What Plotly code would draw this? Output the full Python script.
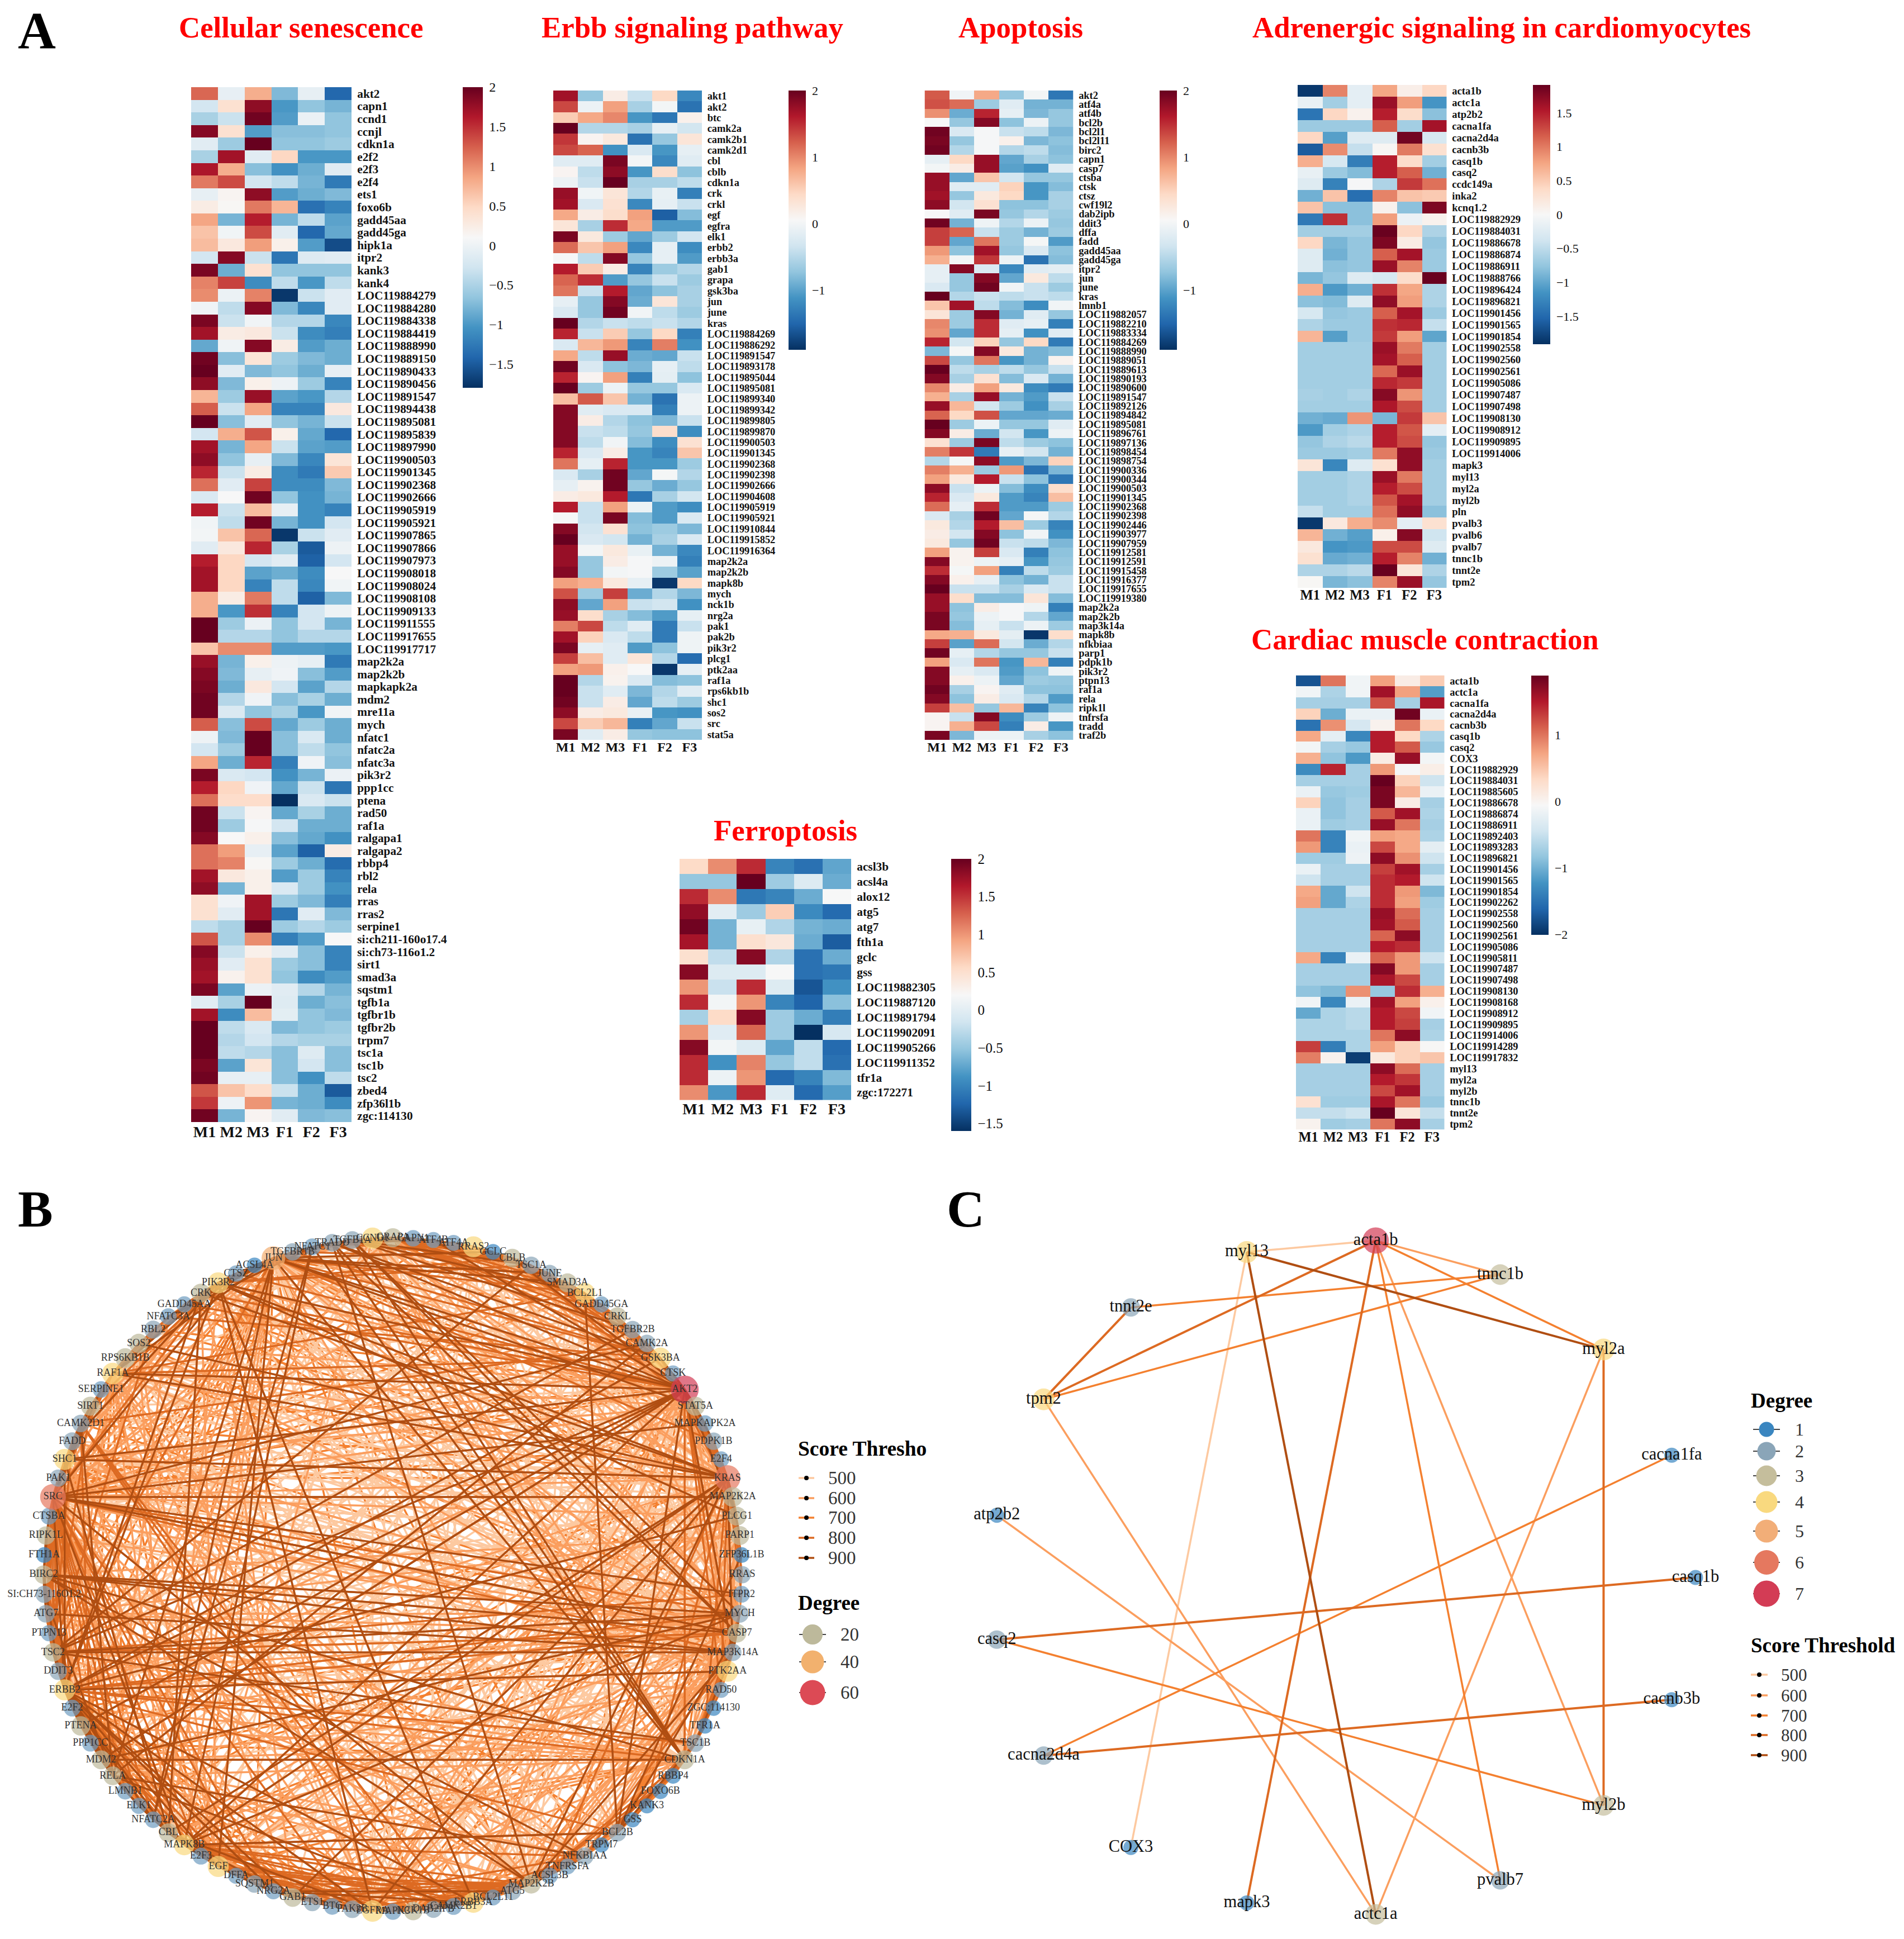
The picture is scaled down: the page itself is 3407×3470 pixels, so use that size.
import math
import numpy as np
import plotly.graph_objects as go

W, H = 3407, 3470
SERIF = "Liberation Serif"
samples = ["M1", "M2", "M3", "F1", "F2", "F3"]
RDBU = ["#053061","#2166AC","#4393C3","#92C5DE","#D1E5F0","#F7F7F7","#FDDBC7","#F4A582","#D6604D","#B2182B","#67001F"]

senescence_genes = ["akt2","capn1","ccnd1","ccnjl","cdkn1a","e2f2","e2f3","e2f4","ets1","foxo6b","gadd45aa","gadd45ga","hipk1a","itpr2","kank3","kank4","LOC119884279","LOC119884280","LOC119884338","LOC119884419","LOC119888990","LOC119889150","LOC119890433","LOC119890456","LOC119891547","LOC119894438","LOC119895081","LOC119895839","LOC119897990","LOC119900503","LOC119901345","LOC119902368","LOC119902666","LOC119905919","LOC119905921","LOC119907865","LOC119907866","LOC119907973","LOC119908018","LOC119908024","LOC119908108","LOC119909133","LOC119911555","LOC119917655","LOC119917717","map2k2a","map2k2b","mapkapk2a","mdm2","mre11a","mych","nfatc1","nfatc2a","nfatc3a","pik3r2","ppp1cc","ptena","rad50","raf1a","ralgapa1","ralgapa2","rbbp4","rbl2","rela","rras","rras2","serpine1","si:ch211-160o17.4","si:ch73-116o1.2","sirt1","smad3a","sqstm1","tgfb1a","tgfbr1b","tgfbr2b","trpm7","tsc1a","tsc1b","tsc2","zbed4","zfp36l1b","zgc:114130"]
senescence_values = [
[1.2,-.05,.8,-.6,-.05,-1.4],[-.2,.4,1.8,-.9,-.5,-.65],[-.4,-.25,1.95,-.85,-.02,-.5],[1.85,.4,-.85,-.55,-.55,-.5],[-.1,-.45,2,-.5,-.5,-.45],[-.4,1.7,-.1,.5,-.9,-.9],[1.65,.8,-.55,-.95,-.7,-.1],[1.1,1.35,-.2,-.3,-.65,-1.2],[-.05,.15,1.8,-.85,-.7,-.6],[.25,.12,1.1,.75,-1.3,-1.1],[.85,-.65,1.6,-.65,-.3,-.8],[.65,.03,1.35,-.1,-1.4,-.75],[.7,.3,.9,.2,-.85,-1.6],[-.2,1.85,-.25,-1.25,-.12,-.1],[1.9,-.7,.4,-.5,-.5,-.5],[1.05,1.4,-1,-.3,-.9,-.3],
[1,-.02,1.05,-1.75,-.25,-.1],[.02,-.3,1.85,-.6,-1.05,-.1],[1.9,-.25,.03,-.35,-.35,-1.05],[1.7,.25,.3,-.25,-1,-1.15],[-.75,.02,1.85,.25,-.85,-.7],[1.95,-.55,.35,-.45,-.6,-.7],[2,-.1,-.6,-.5,-.7,-.05],[1.8,-.6,.2,0,-.45,-1.1],[.75,-.45,1.75,-.8,-.9,-.35],[1.25,-.25,.85,-1.1,-1.1,.3],[2,-.55,-.1,-.5,-.65,-.25],[-.2,.8,1.3,.2,-.75,-1.4],[1.7,-.65,.85,-.25,-.8,-.85],[1.8,-.5,-.05,-.6,-1.05,.35],[1.55,-.25,.25,-1,-1.2,.6],[1.15,-.1,1.4,-1,-1,-.6],[-.15,.1,1.95,-.5,-.95,-.65],[1.6,-.25,.7,-.05,-.95,-1.1],[.03,-.3,1.95,-.65,-.95,-.2],[.05,.65,1.2,-1.75,-.25,-.1],[-.1,.3,1.55,-.4,-1.5,0],[1.6,.5,-.2,-.1,-1.45,-.2],[1.7,.5,-.8,-.7,-1,.1],[1.7,.5,-1.1,-.3,-1.05,.03],[.8,.25,1.1,-.3,-1.45,-.6],[.8,-.9,1.5,-1.1,-.2,0],[2,-.45,-.02,-.5,-.2,-.65],[2,-.35,-.35,-.5,-.35,-.35],[.65,1,1,-.85,-.85,-.9],
[1.75,-.65,.2,0,-.05,-1.2],[1.85,-.6,-.05,.02,-.55,-.85],[1.9,-.7,.3,-.2,-.8,-.35],[1.95,-.35,.02,-.55,-.4,-.7],[1.95,-.15,-.5,-.4,-.9,.03],[1.25,-.55,1.35,-.75,-.45,-.7],[0,-.6,2,-.55,-.15,-.7],[-.2,-.45,2,-.55,-.3,-.5],[.85,-.7,1.55,-1.15,.02,-.55],[1.9,-.15,-.2,-.95,-.65,-.02],[1.6,.5,.02,-.75,-.25,-1.25],[1.15,.45,.45,-1.8,-.15,-.25],[1.95,-.25,.15,-.75,-.4,-.7],[1.95,-.45,.08,-.2,-.7,-.7],[1.85,.1,.2,-.55,-.75,-.95],[1.15,.9,-.05,-.8,-1.45,.25],[1.15,1.05,.12,-.45,-.7,-1.35],[1.7,.3,.2,-.85,-.45,-1.1],[1.8,-.65,.2,-.15,-.45,-.95],[.4,.02,1.7,-.45,-.6,-1.15],[.4,-.1,1.7,-1.25,-.1,-.6],[-.3,-.4,2,-.45,-.35,-.45],[1.3,-.4,1,-1.15,-.85,.1],[1.85,-.25,.2,-.1,-.55,-1.1],[1.75,-.1,.4,-.45,-.55,-1.1],[1.7,.18,.4,-.5,-1,-.85],[1.9,-.8,-.02,-.1,-.35,-.65],[-.1,-.4,2,-.12,-.7,-.55],[1.7,-1,.7,-.08,-.5,-.6],[2,-.3,-.15,-.6,-.5,-.45],[2,-.35,-.2,-.35,-.4,-.4],[2,-.3,-.35,-.55,-.12,-.55],[1.9,-.8,.35,-.55,-.2,-.55],[1.95,-.05,-.05,-.55,-.95,-.3],[1.3,.65,.45,-.25,-.7,-1.5],[1.45,0,.95,-.65,-.7,-1],[1.95,-.65,.15,-.1,-.6,-.55]]

erbb_genes = ["akt1","akt2","btc","camk2a","camk2b1","camk2d1","cbl","cblb","cdkn1a","crk","crkl","egf","egfra","elk1","erbb2","erbb3a","gab1","grapa","gsk3ba","jun","june","kras","LOC119884269","LOC119886292","LOC119891547","LOC119893178","LOC119895044","LOC119895081","LOC119899340","LOC119899342","LOC119899805","LOC119899870","LOC119900503","LOC119901345","LOC119902368","LOC119902398","LOC119902666","LOC119904608","LOC119905919","LOC119905921","LOC119910844","LOC119915852","LOC119916364","map2k2a","map2k2b","mapk8b","mych","nck1b","nrg2a","pak1","pak2b","pik3r2","plcg1","ptk2aa","raf1a","rps6kb1b","shc1","sos2","src","stat5a"]
erbb_values = [
[1.7,-.55,.2,-.3,.45,-1.15],[1.35,-.05,.85,-.45,0,-1.4],[.55,.8,1,-1,-1.35,.15],[2,-.4,-.4,-.45,-.1,-.25],[1.45,.1,.25,-1.4,-.55,.3],[1.35,1.2,-1.05,-.2,-1,-.1],[-.15,-.15,1.9,0,-1.15,-.15],[.1,-.35,1.8,-1,.4,-.6],[-.05,-.3,2,-.45,-.45,-.35],[1.75,-.02,.3,-.4,-.08,-1.25],[1.7,-.2,.35,-1.15,-.1,-.3],[.8,.2,.4,.85,-1.55,-.65],[.3,-.45,1.5,.8,-.95,-.95],[1.9,.25,-.5,-.85,-.5,-.25],[1.15,.6,.85,-1.15,-.1,-1.1],[.03,-.35,1.85,-.55,-.1,-.95],[1.6,.55,.2,-1.2,-.5,-.4],[1.2,1.5,-.95,-.55,-.3,-.5],[1.1,-.3,1.6,-.85,-.6,-.45],[-.1,-.55,1.85,-.8,.3,-.45],[-.2,-.55,1.95,-.02,-.35,-.5],[2,-.4,-.3,-.35,-.3,-.4],
[1.55,-.3,.55,-.55,.45,-1.25],[-.2,.7,.9,-1.2,1.05,-1.05],[.8,-.35,1.75,-.8,-.85,-.3],[1.95,-.2,-.6,-.7,-.1,-.35],[1.55,.1,.85,-1.25,-.12,-.6],[2,-.5,-.05,-.55,-.55,-.2],[.65,1.25,.6,-.75,-1.4,-.05],[1.85,-.15,-.2,-.2,-1.25,-.05],[1.85,.2,-.4,-.6,-.7,-.3],[1.85,-.3,-.35,-.55,.4,-1.1],[1.85,-.35,-.02,-.65,-1.1,.35],[1.55,-.2,.2,-1,-1.2,.6],[1.1,-.1,1.55,-1,-1,-.5],[-.2,-.45,1.95,-.85,.02,-.4],[-.1,.12,1.95,-.55,-.8,-.55],[.2,.25,1.6,-1.35,-.45,-.25],[1.6,-.3,.85,-.05,-.95,-1.1],[.03,-.3,1.9,-.65,-.95,-.2],[1.85,-.25,.35,-.6,-.5,-.7],[2,-.2,-.25,-.75,-.45,-.2],[1.75,0,.25,-.08,-.75,-1.15],
[1.75,-.55,.2,.03,-.05,-1.25],[1.85,-.55,0,.03,-.5,-.9],[.85,.75,.25,-.1,-1.85,.45],[1.3,-.5,1.4,-.8,-.4,-.7],[1.8,-.85,.85,-.3,-.25,-1.05],[1.75,.4,-.45,-.65,-.95,-.1],[1.05,1.35,-.35,-.15,-1.3,-.3],[1.7,.5,-.2,-.35,-1.3,-.03],[1.9,-.1,-.15,-.95,-.6,-.03],[1.4,.65,-.15,.3,-.4,-1.45],[.85,.9,.15,.05,-1.85,-.1],[2,-.4,.12,-.2,-.65,-.6],[2,-.3,-.15,-.7,-.4,-.15],[1.95,-.3,.2,-.85,-.35,-.5],[1.8,.2,.25,-.08,-1,-1.05],[1.35,.55,.7,-1.25,-.85,-.3],[1.9,-.15,.2,-.55,-.6,-.6]]

apoptosis_genes = ["akt2","atf4a","atf4b","bcl2b","bcl2l1","bcl2l11","birc2","capn1","casp7","ctsba","ctsk","ctsz","cwf19l2","dab2ipb","ddit3","dffa","fadd","gadd45aa","gadd45ga","itpr2","jun","june","kras","lmnb1","LOC119882057","LOC119882210","LOC119883334","LOC119884269","LOC119888990","LOC119889051","LOC119889613","LOC119890193","LOC119890600","LOC119891547","LOC119892126","LOC119894842","LOC119895081","LOC119896761","LOC119897136","LOC119898454","LOC119898754","LOC119900336","LOC119900344","LOC119900503","LOC119901345","LOC119902368","LOC119902398","LOC119902446","LOC119903977","LOC119907959","LOC119912581","LOC119912591","LOC119915458","LOC119916377","LOC119917655","LOC119919380","map2k2a","map2k2b","map3k14a","mapk8b","nfkbiaa","parp1","pdpk1b","pik3r2","ptpn13","raf1a","rela","ripk1l","tnfrsfa","tradd","traf2b"]
apoptosis_values = [
[1.25,-.02,.8,-.55,0,-1.35],[1.3,1.15,-.5,-.15,-.75,-.75],[.95,-.8,1.55,-.1,-.7,-.55],[.05,-.55,1.85,-.6,-.05,-.55],[1.95,-.2,.03,-.3,-.35,-.7],[1.9,-.55,.03,.15,-.7,-.6],[1.95,-.4,.03,-.4,-.35,-.65],[-.1,.45,1.75,-.85,-.45,-.6],[0,.2,1.75,-.9,-1.05,-.15],[1.75,-.85,.6,-.25,-.55,-.55],[1.75,-.15,-.15,.5,-1,-.65],[1.7,-.55,.25,.45,-1,-.45],[1.8,-.25,.35,-.6,-.6,-.45],[.05,-.15,1.9,-.55,-.4,-.5],[1.95,-.75,-.03,-.4,-.05,-.55],[1.4,1.2,-.3,-.5,-.75,-.5],[1.4,-.85,1.1,-.5,.02,-.95],[.9,-.6,1.7,-.55,-.2,-.6],[.75,0,1.45,-.05,-1.4,-.65],[-.1,1.85,-.2,-1.15,-.15,-.12],[-.1,-.55,1.85,-.85,.25,-.35],[-.2,-.55,1.95,-.02,-.3,-.5],[2,-.4,-.3,-.35,-.3,-.35],[.6,1.7,-.35,-.65,-1.1,-.02],
[.3,-.5,1.85,-.75,-.15,-.55],[1,-.5,1.5,-.15,-.1,-1.25],[.95,-.85,1.5,-.1,-1.05,-.15],[1.55,-.25,.5,-.55,.45,-1.3],[-.7,.02,1.85,.25,-.75,-.65],[1.35,-.55,1.1,-1,-.75,.12],[2,-.35,-.45,-.35,-.55,-.3],[1.85,-.45,.35,-.65,-.2,-.75],[1,.2,.85,.25,-1.1,-1.3],[.75,-.45,1.75,-.75,-.95,-.3],[1.75,.7,-.25,-.5,-1.05,-.45],[1.2,.45,1.3,-.85,-.85,-.8],[2,-.5,-.05,-.55,-.55,-.15],[1.85,.2,-.8,-.25,-1,-.05],[.35,-.5,1.9,-.35,-.5,-.6],[1.05,1.45,-1.3,-.08,-.25,-.75],[-.4,.02,1.8,-.95,-.7,.5],[1.05,.75,-.5,.9,-1.4,-.7],[.85,.25,1.6,-.3,-.6,-1.35],[1.8,-.3,-.05,-.65,-1.1,.4],[1.55,-.2,.25,-.95,-1.2,.65],[1.15,-.1,1.5,-.95,-.95,-.5],[-.2,-.45,1.95,-.85,.02,-.4],[.25,-.4,1.6,.65,-.5,-1.2],[.2,-.25,1.85,-.6,-.02,-1.05],[.25,-.55,1.95,-.3,-.35,-.7],[.85,.12,1.4,-.2,-1.25,-.6],[1.85,.12,-.05,-.1,-1,-.55],[1.5,.02,.85,-1.25,-.35,-.5],[1.85,.15,-.1,-.6,-.75,-.3],[2,-.3,-.3,-.45,-.2,-.3],[1.75,.4,-.65,-.65,.3,-.65],
[1.75,-.6,.2,.03,-.03,-1.25],[1.9,-.55,-.05,.03,-.4,-.85],[1.9,-.65,-.1,-.3,-.05,-.5],[.8,.75,.25,-.12,-1.85,.4],[1.4,-.9,1.15,-.25,-.8,-.4],[1.95,-.1,-.4,-.55,-.55,-.3],[.85,-.2,1.1,-1,.7,-1.25],[1.85,-.1,-.2,-.95,-.6,-.03],[1.85,.15,-.05,-.85,-.5,-.55],[1.95,-.45,.1,-.15,-.6,-.6],[1.85,-.6,.2,-.2,-.4,-.95],[1.4,.65,-.55,.7,-1.2,-.6],[.1,-.3,1.85,-1.1,-.5,-.03],[.1,.75,1.35,-1.25,.2,-1],[1.9,-.7,-.05,-.05,-.45,-.6]]

adrenergic_genes = ["acta1b","actc1a","atp2b2","cacna1fa","cacna2d4a","cacnb3b","casq1b","casq2","ccdc149a","inka2","kcnq1.2","LOC119882929","LOC119884031","LOC119886678","LOC119886874","LOC119886911","LOC119888766","LOC119896424","LOC119896821","LOC119901456","LOC119901565","LOC119901854","LOC119902558","LOC119902560","LOC119902561","LOC119905086","LOC119907487","LOC119907498","LOC119908130","LOC119908912","LOC119909895","LOC119914006","mapk3","myl13","myl2a","myl2b","pln","pvalb3","pvalb6","pvalb7","tnnc1b","tnnt2e","tpm2"]
adrenergic_values = [
[-1.85,.95,-.15,.75,.12,.4],[-.12,-.5,-.15,1.65,.8,-1.05],[-1.4,.4,.08,1.5,.35,-.65],[-.55,-.55,-.55,1.15,-.5,1.6],[.4,-.95,-.2,-.2,1.85,-.25],[-1.6,.9,-.35,.03,1,.3],[.7,-.25,-1.3,1.5,.35,-.5],[-.12,-.55,-.7,1.5,1.15,-.8],[-.2,-1.25,-.02,-.45,1.35,1.05],[-.8,.55,-1.45,.95,.55,.5],[.55,-.65,-.65,.08,-.65,1.8],[-1.35,1.4,-.65,.8,-.1,.08],[-.5,-.5,-.5,1.9,.4,-.45],[.4,-.75,-.6,1.8,.15,-.6],[-.2,-.8,-.6,1.15,1.6,-.55],[-.2,-.65,-.6,1.65,.95,-.55],[-.75,-.6,-.2,-.25,.35,1.9],[.7,-1,-.8,1.4,.75,-.45],[-.65,-.7,-.2,1.7,.8,-.45],[-.25,-.6,-.55,1.15,1.6,-.55],[-.45,-.55,-.55,1.4,1.45,-.35],[.65,-.95,-.55,1.35,.8,-.9],[-.5,-.5,-.5,1.65,1,-.5],[-.5,-.5,-.5,1.6,1.15,-.5],[-.5,-.5,-.5,1.1,1.65,-.5],[-.5,-.5,-.5,1.45,1.35,-.5],[-.48,-.5,-.45,1.75,.85,-.5],[-.5,-.5,-.5,1.55,1.25,-.5],[-.8,-.85,.85,-.75,1.35,.55],[-1,-.5,-.45,1.5,1.2,-.15],[-.6,-.45,-.4,1.5,1.25,-.6],[-.55,-.55,-.5,1,1.7,-.55],[.25,-1.2,-.2,.3,1.7,-.5],[-.5,-.5,-.45,1.65,1,-.5],[-.5,-.5,-.45,1.5,1.25,-.5],[-.5,-.5,-.45,1.2,1.6,-.5],[-.35,-.5,-.5,1.05,1.7,-.65],[-1.85,.2,.7,.9,-.15,.3],[.65,-.8,-.95,.1,1.75,-.3],[.2,-1.05,-1,1.25,1.25,-.2],[.3,-.85,-.8,1.5,.95,-.8],[-.45,-.45,-.4,1.9,.25,-.45],[.02,-.75,-.65,.95,1.65,-.6]]

cardiac_genes = ["acta1b","actc1a","cacna1fa","cacna2d4a","cacnb3b","casq1b","casq2","COX3","LOC119882929","LOC119884031","LOC119885605","LOC119886678","LOC119886874","LOC119886911","LOC119892403","LOC119893283","LOC119896821","LOC119901456","LOC119901565","LOC119901854","LOC119902262","LOC119902558","LOC119902560","LOC119902561","LOC119905086","LOC119905811","LOC119907487","LOC119907498","LOC119908130","LOC119908168","LOC119908912","LOC119909895","LOC119914006","LOC119914289","LOC119917832","myl13","myl2a","myl2b","tnnc1b","tnnt2e","tpm2"]
cardiac_values = [
[-1.75,1,-.1,.75,.1,.45],[-.1,-.5,-.1,1.6,.75,-1.05],[-.55,-.55,-.55,1.2,-.55,1.55],[.4,-.9,-.15,-.15,1.85,-.15],[-1.5,.85,-.3,.03,1,.35],[.7,-.2,-1.3,1.5,.35,-.5],[-.08,-.55,-.65,1.5,1.15,-.65],[.65,-.7,-1.1,.1,1.65,-.08],[-1.25,1.45,-.55,.8,-.05,.08],[-.55,-.55,-.55,1.9,.4,-.35],[-.15,-.65,-.6,1.8,.6,-.15],[.4,-.7,-.55,1.8,.1,-.55],[-.15,-.7,-.55,1.15,1.6,-.5],[-.15,-.6,-.55,1.65,1,-.55],[1,-1.35,-.1,.75,.7,-.5],[.8,-1.35,-.15,1.25,.7,-.2],[-.6,-.6,-.12,1.7,.85,-.35],[-.15,-.55,-.55,1.3,1.6,-.55],[-.35,-.55,-.55,1.4,1.5,-.35],[.7,-.95,-.35,1.4,.8,-.8],[.75,-.95,-.5,1.4,.75,-.6],[-.55,-.55,-.55,1.65,1.05,-.55],[-.55,-.55,-.55,1.6,1.15,-.55],[-.55,-.55,-.55,1.1,1.7,-.55],[-.55,-.55,-.55,1.5,1.4,-.55],[.7,-1.35,-.15,1.1,.8,-.35],[-.55,-.55,-.55,1.75,.8,-.55],[-.55,-.55,-.55,1.55,1.25,-.55],[-.7,-.8,.85,-.65,1.4,.65],[-.1,-1.3,-.15,1.6,.75,.05],[-.95,-.5,-.45,1.5,1.25,-.1],[-.5,-.5,-.45,1.5,1.3,-.55],[-.5,-.5,-.5,1,1.7,-.5],[1.3,-1.4,-.5,.75,.4,-.03],[.95,.02,-1.9,.15,.4,.5],[-.55,-.55,-.55,1.7,1.05,-.55],[-.55,-.55,-.55,1.5,1.35,-.55],[-.55,-.55,-.55,1.25,1.6,-.55],[.25,-.6,-.6,1.55,1,-.65],[-.4,-.4,-.35,1.9,.2,-.4],[.02,-.6,-.55,1,1.7,-.55]]

ferroptosis_genes = ["acsl3b","acsl4a","alox12","atg5","atg7","fth1a","gclc","gss","LOC119882305","LOC119887120","LOC119891794","LOC119902091","LOC119905266","LOC119911352","tfr1a","zgc:172271"]
ferroptosis_values = [
[.55,1.05,1.55,-1,-1.15,-.75],[-.5,-.5,2,-.45,-.05,-.7],[1.55,1.05,-1.1,-1,-.7,.2],[1.8,0,-.45,.65,-.95,-1.2],[1.95,-.65,.05,-.35,-.65,-.7],[1.7,-.65,.5,.4,-.7,-1.3],[.5,-.25,1.85,-.35,-1.15,-.7],[1.85,-.05,-.05,.2,-1.15,-1.1],[1,-.2,1.55,-.05,-1.35,-.9],[1.55,.15,1,-1,-1.25,-.55],[-.4,.55,1.85,-.45,-.7,-1.05],[1,-.02,1.25,-.45,-1.6,-.1],[1.85,.15,-.05,-.75,-.25,-1.2],[1.55,-.9,1.1,-.5,-.25,-1.15],[1.55,.1,1,-1.2,-1,-.6],[1.05,-.85,1.55,-.03,-1.2,-.8]]

# Panel B network: nodes in drawing order round the circle
b_nodes = ["GRAPA","CAPN1","ATF4B","ATF4A","RRAS2","GCLC","CBLB","TSC1A","JUNE","SMAD3A","BCL2L1","GADD45GA","CRKL","TGFBR2B","CAMK2A","GSK3BA","CTSK","AKT2","STAT5A","MAPKAPK2A","PDPK1B","E2F4","KRAS","MAP2K2A","PLCG1","PARP1","ZFP36L1B","RRAS","ITPR2","MYCH","CASP7","MAP3K14A","PTK2AA","RAD50","ZGC:114130","TFR1A","TSC1B","CDKN1A","RBBP4","FOXO6B","KANK3","GSS","BCL2B","TRPM7","NFKBIAA","TNFRSFA","ACSL3B","MAP2K2B","ATG5","BCL2L11","ERBB3A","CAMK2B1","DAB2IPB","NCK1B","MAPK3","EGFRA","PAK2B","BTC","ETS1","GAB1","NRG2A","SQSTM1","DFFA","EGF","E2F3","MAPK8B","CBL","NFATC2A","ELK1","LMNB1","RELA","MDM2","PPP1CC","PTENA","E2F2","ERBB2","DDIT3","TSC2","PTPN13","ATG7","SI:CH73-116O1.2","BIRC2","FTH1A","RIPK1L","CTSBA","SRC","PAK1","SHC1","FADD","CAMK2D1","SIRT1","SERPINE1","RAF1A","RPS6KB1B","SOS2","RBL2","NFATC3A","GADD45AA","CRK","PIK3R2","CTSZ","ACSL4A","JUN","TGFBR1B","NFATC1","TRADD","TGFB1A","CCND1"]
b_degree = [20,9,6,6,30,5,18,13,13,20,28,7,18,13,13,30,7,62,20,8,13,7,52,24,20,20,5,13,10,15,20,13,30,6,4,4,14,20,5,5,2,3,14,3,14,6,9,20,13,6,28,10,11,18,9,32,13,9,12,19,7,13,7,30,10,28,20,9,7,9,19,20,10,22,10,30,13,18,7,14,12,18,5,17,10,52,12,30,15,13,20,9,32,24,22,16,9,7,20,30,8,4,42,13,10,14,14,32]

b_edges_500 = [(4,[33,37,42,47,53,55,59,63,66,70,75,80,87,92,99,24,29,32]),(102,[17,22,30,32,37,42,47,50,55,27,24,29,45,38,6,10,15]),(10,[29,31,37,42,48,55,60,65,71,77,84,92,99,22,30]),(15,[31,37,44,48,55,63,71,79,85,92,98,24,32]),(9,[28,30,33,37,42,47,52,66,73,80,29]),(17,[30,36,42,47,53,58,66,70,78,84,90,93,97,103,107,5,28]),(22,[29,31,36,44,51,58,62,70,76,84,88,93,99,106,1]),(32,[47,55,60,63,70,75,79,85,87,92,98,107,100]),(85,[27,29,31,37,44,50,53,25,30,18]),(87,[24,29,30,37,47,55,18,23,32]),(92,[28,30,37,43,47,53,23,25]),(93,[23,27,29,31,42,47,55,17]),(99,[29,31,36,42,47,53,30]),(107,[30,37,42,47,55,63,71,29,85,92]),(63,[23,25,30,18,24,29,12]),(75,[23,29,30,31,37,12,18,25]),(79,[29,30,31,37,23,44]),(83,[30,31,44,47,45,29]),(88,[30,31,37,44,47,29]),(90,[29,37,47,23,30]),(55,[23,24,25,18,12,20,10]),(50,[25,23,20,12,107,94]),(12,[30,37,47,73,85,92,66]),(6,[37,47,55,66,75,85]),(0,[32,47,55,66,75,85,94,50])]
b_edges_600 = [(17,[1,10,12,23,24,25,29,32,37,50,55,59,63,65,75,87,92,94,98,99,107,6,4]),(85,[0,6,12,15,23,24,32,47,50,55,59,63,66,73,75,87,92,94,98,99,102,107]),(22,[0,6,10,12,15,23,24,32,50,55,59,63,66,75,85,87,92,94,98,99,102,107,93]),(102,[0,1,9,29,37,66,70,71,73,85,88,90,104,105,106,107,65,42,31]),(29,[37,38,44,47,53,58,65,71,73,75,79,85,92,107,102,0,9,5,10]),(30,[36,44,45,47,48,62,66,76,79,81,83,84,88,16,100]),(37,[71,73,74,76,66,75,107,64,58,70,79]),(107,[36,64,74,38,23]),(92,[55,59,63,66,75,87,94,98,99,50,47,23]),(55,[59,60,63,66,87,94,98,24,75,99,32,56,51]),(75,[50,59,63,66,87,94,98,24,99,32]),(32,[24,50,59,66,87,94,98,99]),(99,[24,50,59,66,87,94,98]),(63,[57,59,60,66,87,94,98,24]),(66,[58,59,87,94,98,24]),(47,[36,42,44,48,53,79,83]),(71,[73,36,44,47,79]),(70,[44,47,67,72,76,88,96,104,14]),(77,[81,79,84,30,44]),(88,[30,45,44,62,76]),(25,[17,37,47,79,81,48]),(18,[22,32,50,55,75,85,87,92,99,13,103]),(33,[71,77,25,37])]
b_edges_700 = [(85,[2,4,9,10,13,17,18,20,25,29,30,37,42,53,62,70,71,73,76,81,86,88,89]),(17,[4,8,13,14,15,20,22,30,45,47,53,54,56,71,73,86,89,93,95]),(22,[8,13,14,20,30,37,47,53,54,56,64,65,73,86,89,95,97,68,74]),(102,[12,18,19,23,25,44,48,53,61,63,64,66,68,72,74,75,76,77,78,79,84,95,96,98,99]),(30,[28,31,33,37,42,48,63,71,73,75,85,87,92,93,97,99,107,77,86,89]),(29,[36,42,48,50,55,59,63,66,70,74,77,81,87,94,98]),(75,[53,56,58,60,61,64,67,68,69,70,71,72,73,74,76,77]),(65,[53,56,58,60,61,64,66,67,70,71,73]),(37,[36,38,42,44,47,63,65,72,76,77,81]),(92,[64,69,72,74,76,78,86,88,89,95,97,52]),(55,[47,48,50,51,52,53,54,57,58,46,45]),(73,[56,58,61,64,66,67,68,70,71,72,74,76,77,79,84]),(50,[44,46,47,48,49,51,52,53,54,56,59]),(47,[43,44,45,48,49,51,52,53]),(42,[36,38,39,44,48,53,27,28]),(99,[92,93,94,95,96,98,100,88,89]),(32,[26,27,28,31,33,36,38,21,19]),(23,[18,20,21,24,25,27,29,31]),(4,[1,2,3,5,6,7,8,9,10,12,14,15,104,105,106]),(10,[6,7,9,12,14,0,1,3,105]),(107,[1,3,5,6,8,9,12,104,106,105])]
b_edges_800 = [(85,[56,60,61,64,65,67,68,69,70,72,74,76,77,78,79,80,83,84,86,87,88,30,31,29]),(75,[62,65,66,69,71,78,79,80,81,83,29,30,36,37,42]),(73,[63,65,69,75,78,80,81]),(77,[74,76,78,79,80,83,88,90,30,28,102,95]),(102,[10,15,20,8,9,97,100,103,106,99]),(17,[16,18,19,21,23,31,32,33,37,11,14,97,98,100]),(22,[17,19,20,21,23,24,26,27,28,31,33,35,40,46]),(63,[48,49,50,53,54,55,61,62,64,65,66]),(65,[47,48,42,44,50,51,53,54,59,62,63,64]),(92,[85,86,87,89,90,91,93,94,95,96,98,99,10,15]),(99,[85,88,90,97,101,103,105,104,6,7]),(0,[1,2,3,5,6,7,12,13,14,15,9,10,106,105,107,104,103]),(6,[8,11,12,13,14,15,17,18,103,105]),(15,[12,13,14,17,18,19,20,22,23,103,96]),(44,[31,37,45,47,49,48,51,53,58,36]),(36,[31,33,35,37,38,41,42,29,30]),(47,[37,38,51,54,56,58,59,60,61,62]),(56,[50,51,52,53,54,55,57,58,59]),(89,[14,51,52,53,72,84,86,88,90])]
b_edges_900 = [(81,[30,29,37,47,44,76,80,83,84,79]),(65,[42,29,17,22,85]),(75,[85,63,55,50,24,59,87,98,17,99,15,32,66,60,67,70,72,74,77,73]),(77,[7,13,17,71,36,31,29]),(17,[15,71,73,92,99,19,20,24,18,102,2,87,6]),(22,[92,47,55,87,94,98,66,59,99,25,23]),(102,[104,96,67,70,18,9,63,92,37,101,98,5,8]),(71,[37,29,17,70,69,74,76]),(70,[68,44,51,14,89,76,80]),(66,[59,98,87,55,64,63,62,68,69]),(99,[55,50,24,92,100,88,98]),(60,[50,55,75,63,59,61,48]),(85,[19,30,23,47,28,14,100,89,91,90]),(106,[13,10,7,104,103,30,37,29]),(105,[1,30,37,0,17,104,2,47,103,15]),(104,[65,37,96,67,101]),(42,[36,17,10,30,26]),(31,[22,47,29,30,36,79,81,17])]

# Panel C network
c_nodes = ["casq1b","cacna1fa","myl2a","tnnc1b","acta1b","myl13","tnnt2e","tpm2","atp2b2","casq2","cacna2d4a","COX3","mapk3","actc1a","pvalb7","myl2b","cacnb3b"]
c_degree = [1,1,4,3,7,4,2,4,1,2,2,1,1,3,2,3,1]
c_edges_500 = [("myl13","acta1b"),("myl13","COX3")]
c_edges_600 = [("acta1b","tnnc1b"),("acta1b","myl2b"),("myl2a","actc1a"),("tpm2","actc1a"),("atp2b2","pvalb7")]
c_edges_700 = [("acta1b","myl2a"),("tnnt2e","tnnc1b"),("tpm2","tnnc1b"),("acta1b","pvalb7"),("casq2","myl2b"),("cacna2d4a","cacna1fa")]
c_edges_800 = [("tpm2","acta1b"),("tpm2","tnnt2e"),("acta1b","mapk3"),("myl2a","myl2b"),("casq2","casq1b"),("cacna2d4a","cacnb3b")]
c_edges_900 = [("myl13","myl2a"),("myl13","actc1a")]

score_levels = [500, 600, 700, 800, 900]
score_colors = ["#FDC9A0", "#FB9E5E", "#F4802F", "#DD6A22", "#B04E12"]
b_legend_degree = [20, 40, 60]
c_legend_degree = [1, 2, 3, 4, 5, 6, 7]

DEG_STOPS = [(2,"#3A86C0"),(9,"#6F9CC0"),(13,"#8AA5B8"),(20,"#BDB99B"),(30,"#F9D97F"),(40,"#F2AE70"),(52,"#E5785F"),(62,"#D33C55")]
C_COLORS = {1:"#3A86C0",2:"#8AA5B8",3:"#C5BE9C",4:"#F9D97F",5:"#F2AE78",6:"#E5785F",7:"#D33C55"}
C_SIZES = {1:27,2:33,3:37,4:39,5:41,6:44,7:47}

def px(x): return x / W
def py(y): return 1 - y / H

fig = go.Figure()
layout = dict(width=W, height=H, margin=dict(l=0, r=0, t=0, b=0, autoexpand=False),
              paper_bgcolor="white", plot_bgcolor="white", showlegend=False)
annotations, shapes = [], []
CLEAR = "rgba(0,0,0,0)"

def text(x, y, s, size, color="black", bold=False, anchor="left"):
    annotations.append(dict(x=px(x), y=py(y), xref="paper", yref="paper", text=f"<b>{s}</b>" if bold else s,
                            showarrow=False, xanchor=anchor, yanchor="middle",
                            font=dict(family=SERIF, size=size, color=color)))

def tone(values):
    # my colour reading of the mid blues ran a little pale against the reference colour bar
    return np.interp(values, [-2, -1.4, -1, -.5, -.2, 0, 2], [-2, -1.4, -1.1, -.66, -.25, 0, 2]).tolist()

def heat(n, genes, values, box, cbox, zr, ticks, yfont, xfont, cfont, standoff):
    l, r, t, b = box
    cl, cr, ct, cb = cbox
    suffix = "" if n == 1 else str(n)
    fig.add_trace(go.Heatmap(z=values, x=samples, y=genes, xaxis=f"x{suffix}", yaxis=f"y{suffix}",
        zmin=zr[0], zmax=zr[1], colorscale=RDBU, hoverongaps=False,
        colorbar=dict(x=px(cl), xanchor="left", y=py(ct), yanchor="top", len=cb-ct, lenmode="pixels",
                      thickness=cr-cl, thicknessmode="pixels", xpad=0, ypad=0, outlinewidth=0,
                      tickmode="array", tickvals=ticks, ticks="outside", ticklen=7, tickcolor=CLEAR,
                      tickfont=dict(family=SERIF, size=cfont, color="#111"))))
    layout[f"xaxis{suffix}"] = dict(domain=[px(l), px(r)], anchor=f"y{suffix}", type="category", showgrid=False,
        zeroline=False, showline=False, ticks="", ticklabelstandoff=standoff,
        tickfont=dict(family=SERIF, size=xfont, color="#111"), tickprefix="<b>", ticksuffix="</b>")
    layout[f"yaxis{suffix}"] = dict(domain=[py(b), py(t)], anchor=f"x{suffix}", type="category", side="right",
        autorange="reversed", showgrid=False, zeroline=False, showline=False, ticks="outside", ticklen=5,
        tickcolor=CLEAR, dtick=1, tickfont=dict(family=SERIF, size=yfont, color="#111"),
        tickprefix="<b>", ticksuffix="</b>")

heat(1, senescence_genes, tone(senescence_values), (342,629,156,2008), (828,864,156,694), (-1.8,2), [2,1.5,1,.5,0,-.5,-1,-1.5], 21.3, 28, 24, -2)
heat(2, erbb_genes, tone(erbb_values), (990,1256,162,1324), (1411,1442,162,626), (-1.9,2), [2,1,0,-1], 18.4, 24, 22, -4)
heat(3, apoptosis_genes, tone(apoptosis_values), (1654.5,1920.5,162,1324), (2075,2106,162,626), (-1.9,2), [2,1,0,-1], 18.4, 24, 22, -4)
heat(4, adrenergic_genes, tone(adrenergic_values), (2322,2588.5,152,1052), (2743,2774,152,616), (-1.91,1.91), [1.5,1,.5,0,-.5,-1,-1.5], 18.6, 24.5, 22, -5)
heat(5, cardiac_genes, tone(cardiac_values), (2319,2584.5,1208.5,2021.5), (2740,2771,1208.5,1672.5), (-2,1.9), [1,0,-1,-2], 18.5, 24.5, 22, -4)
heat(6, ferroptosis_genes, ferroptosis_values, (1216,1523,1537,1968.5), (1702,1738,1537,2024), (-1.6,2), [2,1.5,1,.5,0,-.5,-1,-1.5], 21.3, 28, 25, -4)

def network(n, nodes, theta, tiers, order, cx, cy, rx, ry, colors, sizes, width, tfont, tcolor):
    suffix = str(n)
    xs = np.cos(theta)
    ys = np.sin(theta)
    for k in order:
        ex, ey = [], []
        for a, b in tiers[k]:
            ex += [xs[a], xs[b], None]
            ey += [ys[a], ys[b], None]
        fig.add_trace(go.Scatter(x=ex, y=ey, mode="lines", xaxis=f"x{suffix}", yaxis=f"y{suffix}", hoverinfo="skip",
                                 line=dict(color=score_colors[k], width=width[k]), name=str(score_levels[k])))
    fig.add_trace(go.Scatter(x=xs, y=ys, mode="markers+text", xaxis=f"x{suffix}", yaxis=f"y{suffix}", text=nodes,
                             textposition="middle center", cliponaxis=False,
                             textfont=dict(family=SERIF, size=tfont, color=tcolor),
                             marker=dict(color=colors, size=sizes, line=dict(width=0))))
    ext = 1.06
    layout[f"xaxis{suffix}"] = dict(domain=[px(cx-ext*rx), px(cx+ext*rx)], range=[-ext, ext], visible=False, anchor=f"y{suffix}")
    layout[f"yaxis{suffix}"] = dict(domain=[py(cy+ext*ry), py(cy-ext*ry)], range=[-ext, ext], visible=False, anchor=f"x{suffix}")

def flat(adj):
    return [(h, p) for h, ps in adj for p in ps]

b_tiers = [flat(b_edges_500), flat(b_edges_600), flat(b_edges_700), flat(b_edges_800), flat(b_edges_900)]
b_theta = math.pi/2 - np.arange(len(b_nodes)) * 2*math.pi/len(b_nodes)
b_colors = [np.interp(d, [s[0] for s in DEG_STOPS], range(len(DEG_STOPS))) for d in b_degree]
b_colors = [DEG_STOPS[int(round(c))][1] for c in b_colors]
b_sizes = [27 + (d-2)*23/60 for d in b_degree]
network(7, b_nodes, b_theta, b_tiers, [2,0,1,3,4], 703, 2818, 625, 603, b_colors, b_sizes, [3.5,3.5,3.5,3.5,3.5], 18, "#333")

ci = {name: i for i, name in enumerate(c_nodes)}
c_tiers = [[(ci[a], ci[b]) for a, b in t] for t in (c_edges_500, c_edges_600, c_edges_700, c_edges_800, c_edges_900)]
c_theta = np.arange(len(c_nodes)) * 2*math.pi/len(c_nodes)
network(8, c_nodes, c_theta, c_tiers, [0,1,2,3,4], 2403.5, 2823, 630.5, 605.5, [C_COLORS[d] for d in c_degree], [C_SIZES[d] for d in c_degree], [3.5,3.5,3.5,4,4], 30.5, "#111")

# legends
def score_legend(title, title_x, title_y, title_size, x0, x1, ys, lab_x, size):
    text(title_x, title_y, title, title_size, bold=True)
    for lv, col, y in zip(score_levels, score_colors, ys):
        shapes.append(dict(type="line", xref="paper", yref="paper", x0=px(x0), x1=px(x1), y0=py(y), y1=py(y), line=dict(color=col, width=3.5)))
        m = (x0+x1)/2
        shapes.append(dict(type="circle", xref="paper", yref="paper", x0=px(m-4), x1=px(m+4), y0=py(y-4), y1=py(y+4), fillcolor="black", line=dict(width=0)))
        text(lab_x, y, str(lv), size, color="#333")

def degree_legend(title, title_x, title_y, title_size, cx, half, items, lab_x, size):
    text(title_x, title_y, title, title_size, bold=True)
    for lab, col, d, y in items:
        shapes.append(dict(type="line", xref="paper", yref="paper", x0=px(cx-half), x1=px(cx+half), y0=py(y), y1=py(y), line=dict(color="#444", width=2)))
        shapes.append(dict(type="circle", xref="paper", yref="paper", x0=px(cx-d/2), x1=px(cx+d/2), y0=py(y-d/2), y1=py(y+d/2), fillcolor=col, line=dict(width=0)))
        text(lab_x, y, str(lab), size, color="#333")

score_legend("Score Thresho", 1426, 2592, 37.5, 1429, 1457, [2645,2681,2716,2752,2788], 1480, 33)
degree_legend("Degree", 1426, 2868, 37, 1454, 24,
              list(zip(b_legend_degree, ["#BDB99B","#F2B16E","#DC4A55"], [36,41,45], [2925,2974,3029])), 1502, 33)
degree_legend("Degree", 3131, 2506, 37, 3161, 24,
              list(zip(c_legend_degree, [C_COLORS[d] for d in c_legend_degree], [C_SIZES[d] for d in c_legend_degree], [2558,2597,2641,2688,2740,2796,2852])), 3210, 32)
score_legend("Score Threshold", 3131, 2944, 37, 3133, 3163, [2997,3034,3070,3105,3141], 3185, 31)

# titles
for s, x, y in [("Cellular senescence",538,49),("Erbb signaling pathway",1239,49),("Apoptosis",1826,49),
                ("Adrenergic signaling in cardiomyocytes",2687,49),("Cardiac muscle contraction",2550,1144),("Ferroptosis",1405,1486)]:
    text(x, y, s, 52.8, color="#FF0000", bold=True, anchor="center")
for s, x, y in [("A",66,54),("B",64,2163),("C",1728,2163)]:
    text(x, y, s, 94, bold=True, anchor="center")

layout["annotations"] = annotations
layout["shapes"] = shapes
fig.update_layout(**layout)
fig.write_html("out.html", config={"displayModeBar": False}, post_script="document.body.style.margin='0';")
